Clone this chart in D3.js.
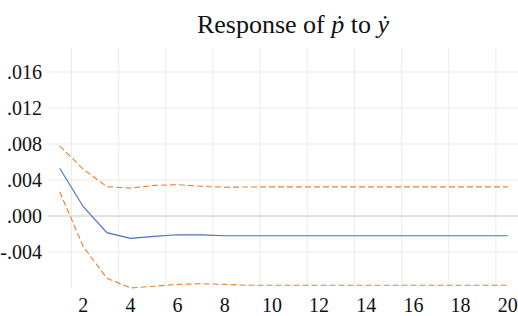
<!DOCTYPE html>
<html>
<head>
<meta charset="utf-8">
<script src="https://cdn.jsdelivr.net/npm/d3@7"></script>
<style>
    body { margin: 0; background: #fff; }
    svg { display: block; }
    svg text { font-family: "Liberation Serif", "Times New Roman", serif; }
</style>
</head>
<body>
<div id="chart"></div>
<script>
// horizon (periods)
const periods = d3.range(1, 21);

// impulse response and +/- 2 S.E. bands
const response = [0.0053, 0.00103, -0.00185, -0.00248, -0.00226, -0.00208, -0.0021, -0.0022,
    -0.0022, -0.0022, -0.0022, -0.0022, -0.0022, -0.0022, -0.0022, -0.0022, -0.0022, -0.0022, -0.0022, -0.0022];
const upperBand = [0.0078, 0.0052, 0.00326, 0.0031, 0.0034, 0.00348, 0.0033, 0.0032,
    0.00322, 0.00324, 0.00324, 0.00324, 0.00324, 0.00324, 0.00324, 0.00324, 0.00324, 0.00324, 0.00324, 0.00324];
const lowerBand = [0.0027, -0.0034, -0.0069, -0.0080, -0.0078, -0.0076, -0.00752, -0.0076,
    -0.0077, -0.0077, -0.0077, -0.0077, -0.0077, -0.0077, -0.0077, -0.0077, -0.0077, -0.0077, -0.0077, -0.0077];

const yTicks = [-0.004, 0, 0.004, 0.008, 0.012, 0.016];
const xTicks = [2, 4, 6, 8, 10, 12, 14, 16, 18, 20];

const width = 518, height = 316;

const svg = d3.select("#chart").append("svg")
    .attr("width", width)
    .attr("height", height);

// scales
const x = d3.scaleLinear()
    .domain([1, 20])
    .range([59.7, 507.7]);

const y = d3.scaleLinear()
    .domain([-0.008, 0.016])
    .range([288, 72]);

const plotLeft = 48, plotRight = 518, plotTop = 48, plotBottom = 288;

// vertical gridlines, between categories
svg.append("g").selectAll("line")
    .data(d3.range(1.5, 20, 2))
    .enter().append("line")
    .attr("x1", d => x(d)).attr("x2", d => x(d))
    .attr("y1", plotTop).attr("y2", plotBottom)
    .attr("stroke", "#ebebeb")
    .attr("stroke-width", 1);

// horizontal gridlines
svg.append("g").selectAll("line")
    .data(yTicks.filter(d => d !== 0))
    .enter().append("line")
    .attr("x1", plotLeft).attr("x2", plotRight)
    .attr("y1", d => y(d)).attr("y2", d => y(d))
    .attr("stroke", "#ebebeb")
    .attr("stroke-width", 1);

// zero line
svg.append("line")
    .attr("x1", plotLeft).attr("x2", plotRight)
    .attr("y1", y(0)).attr("y2", y(0))
    .attr("stroke", "#c4c4c4")
    .attr("stroke-width", 1);

// y labels like ".016" / "-.004"
const fmt = d => {
    let s = d3.format(".3f")(Math.abs(d)).replace(/^0/, "");
    return (d < 0 ? "-" : "") + s;
};

svg.append("g").selectAll("text")
    .data(yTicks)
    .enter().append("text")
    .attr("x", 42)
    .attr("y", d => y(d))
    .attr("dy", "0.35em")
    .attr("text-anchor", "end")
    .attr("font-size", 20)
    .attr("fill", "#111")
    .text(fmt);

svg.append("g").selectAll("text")
    .data(xTicks)
    .enter().append("text")
    .attr("x", d => x(d))
    .attr("y", 311.5)
    .attr("text-anchor", "middle")
    .attr("font-size", 20)
    .attr("fill", "#111")
    .text(d => d);

const line = d3.line()
    .x((d, i) => x(periods[i]))
    .y(d => y(d));

// bands
[upperBand, lowerBand].forEach(band => {
    svg.append("path")
        .datum(band)
        .attr("d", line)
        .attr("fill", "none")
        .attr("stroke", "#ed7d31")
        .attr("stroke-width", 1.1)
        .attr("stroke-dasharray", "6,3");
});

svg.append("path")
    .datum(response)
    .attr("d", line)
    .attr("fill", "none")
    .attr("stroke", "#4472c4")
    .attr("stroke-width", 1.1);

// title
const title = svg.append("text")
    .attr("x", 293)
    .attr("y", 33)
    .attr("text-anchor", "middle")
    .attr("font-size", 26)
    .attr("fill", "#111");
title.append("tspan").text("Response of ");
title.append("tspan").attr("font-style", "italic").text("\u1E57");
title.append("tspan").text(" to ");
title.append("tspan").attr("font-style", "italic").text("\u1E8F");
</script>
</body>
</html>
